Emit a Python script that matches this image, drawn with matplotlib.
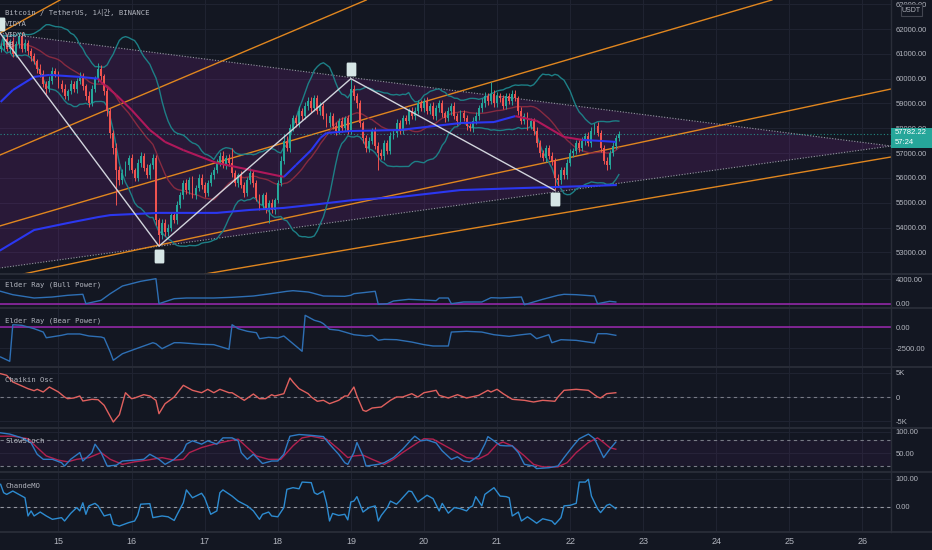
import numpy as np
import pandas as pd
import matplotlib
matplotlib.use('Agg')
import matplotlib.pyplot as plt
import matplotlib.transforms as mtransforms
from matplotlib.collections import LineCollection
from matplotlib.lines import Line2D
from matplotlib.patches import Rectangle
from matplotlib.path import Path

plt.rcParams['font.family'] = ['Liberation Sans', 'DejaVu Sans']
MONO = ['DejaVu Sans Mono', 'Noto Sans CJK KR']

# ---- data: BTCUSDT 1h, hour 0 = 14 Jun 05:00 ----
first_open = 61200
closes = [
    61300, 61600, 61200, 61500, 61000, 61400, 61700, 61200, 61450, 61100, 60900,
    60700, 60400, 60200, 59800, 59600, 59900, 60300,
    60200, 59800, 59600, 59300, 59500, 59800, 59600, 59900, 60100, 59700,
    59300, 59000, 59600, 60000, 60400, 60100,
    59500, 58700, 57800, 57200,
    56300, 55900, 56200,
    56500, 56800, 56300, 56000, 56600, 56900, 56400, 56100, 56500, 56800,
    54300, 53700,
    54200, 53800, 54000, 54500, 54300, 54900, 55300,
    55800, 55500, 55900, 55300, 55600, 56000, 55700, 55400, 55800, 56100,
    56300, 56600, 56900, 56500, 56800,
    56600, 56200, 55800, 56100, 55700, 55400, 55900, 56200, 55800,
    55200, 54900, 55300, 54800, 55000, 54700, 55100,
    55800, 56700, 57500, 57200,
    58000, 58400, 58200, 58700, 58500, 58900,
    59100, 58800, 59200, 58700, 58900, 58500,
    58200, 58500, 58100, 57900, 58300, 58000, 58400, 57900,
    59600, 59300, 59000, 58200,
    57600, 57200, 57500, 57900, 57300, 57000, 56900, 57400, 57100, 57700,
    57800, 58200, 57900, 58400, 58300, 58700, 58500,
    58700, 59000, 58800, 59100, 58700, 58900, 58500, 58800, 59000, 58600,
    58400, 58700, 58900, 58500, 58300, 58600,
    58400, 58100, 58000, 58300, 58500, 58800, 59000,
    59300, 59100, 59400, 59000, 59300, 59200, 58900, 59300, 59100, 59400,
    59200, 58700, 58300, 58500, 58100, 58300, 57900,
    57400, 57000, 56800, 57200, 56900, 56700,
    56000,
    55900, 56300, 56100, 56600, 57000,
    57100, 57400, 57200, 57500, 57700, 57400, 57900, 58100, 57800,
    57200, 56700, 56500,
    57000, 57300, 57600, 57782.22,
]
wick_up = [
    150, 120, 200, 90, 160, 130, 110, 180, 140, 100, 120, 150,
    90, 170, 130, 110, 200, 150, 120, 100, 140, 180, 90, 160,
    110, 130, 150, 120, 100, 190, 140, 120, 220, 130, 100, 150,
    120, 110, 200, 160, 140, 180, 120, 150, 100, 170, 130, 110,
    150, 120, 180, 140, 100, 160, 130, 150, 110, 120, 170, 140,
    130, 150, 120, 180, 110, 140, 160, 120, 100, 150, 130, 170,
    140, 200, 120, 150, 600, 130, 110, 160, 140, 120, 180, 100,
    130, 150, 110, 140, 120, 160, 100, 130, 200, 250, 180, 160,
    150, 130, 200, 120, 170, 150, 180, 130, 160, 140, 120, 110,
    150, 130, 160, 120, 140, 110, 150, 400, 150, 120, 140, 110,
    130, 160, 120, 150, 140, 170, 120, 130, 150, 140, 160, 120,
    130, 150, 110, 140, 160, 120, 150, 130, 170, 110, 140, 120,
    150, 130, 110, 160, 120, 140, 100, 130, 150, 120, 110, 140,
    160, 130, 200, 150, 120, 450, 140, 160, 130, 150, 120, 140,
    160, 130, 120, 150, 110, 140, 120, 130, 150, 120, 140, 110,
    130, 160, 120, 150, 140, 130, 160, 150, 120, 140, 130, 150,
    120, 160, 140, 130, 150, 120, 110, 140, 130, 150, 120, 90,
]
wick_dn = [
    120, 150, 100, 170, 130, 110, 160, 140, 120, 150, 180, 130,
    160, 140, 120, 200, 150, 110, 130, 170, 120, 140, 150, 110,
    130, 160, 120, 140, 180, 150, 110, 130, 120, 160, 140, 200,
    180, 250, 1400, 200, 150, 130, 170, 120, 140, 110, 160, 130,
    120, 150, 140, 200, 450, 180, 150, 130, 160, 120, 140, 110,
    150, 130, 160, 120, 140, 110, 130, 170, 120, 140, 150, 110,
    130, 120, 150, 140, 160, 130, 170, 120, 150, 140, 130, 160,
    140, 180, 150, 200, 600, 130, 150, 120, 110, 140, 130, 150,
    120, 140, 130, 160, 110, 150, 130, 120, 140, 160, 130, 150,
    140, 120, 160, 130, 150, 120, 140, 130, 160, 200, 150, 180,
    140, 160, 130, 150, 700, 140, 160, 120, 150, 130, 140, 120,
    150, 130, 140, 120, 160, 130, 110, 150, 130, 140, 120, 160,
    130, 150, 140, 120, 160, 130, 150, 140, 120, 160, 130, 140,
    120, 150, 130, 140, 160, 120, 140, 130, 150, 120, 140, 130,
    150, 120, 160, 140, 130, 150, 120, 160, 140, 150, 130, 160,
    150, 200, 500, 250, 150, 130, 140, 120, 150, 130, 140, 120,
    160, 130, 150, 140, 120, 160, 150, 200, 140, 130, 120, 100,
]

# VIDYA lines (hour, price)
vidya_fast_h = [0, 4, 11, 16, 26, 32, 33, 38, 43, 49, 54, 60, 71, 82, 93, 97, 102, 105,
                107, 115, 131, 151, 162, 169, 176, 185, 191, 197, 202]
vidya_fast = [59060, 59540, 60070, 60150, 60070, 60000, 59860, 59340, 58740, 57930, 57450,
              57120, 56600, 56320, 56040, 56520, 57120, 57610, 57810, 57890, 57930, 58210,
              58250, 58490, 58300, 57650, 57530, 57490, 57450]
vidya_slow_h = [0, 11, 22, 32, 36, 52, 71, 82, 93, 102, 116, 131, 151, 171, 182, 202]
vidya_slow = [53090, 53900, 54180, 54420, 54500, 54590, 54590, 54710, 54790, 54910, 55110,
              55230, 55510, 55590, 55630, 55710]

# drawings (day of June, price)
zigzag_d = [14.20, 16.375, 19.0, 21.79]
zigzag_p = [61840, 53250, 60000, 55500]
tri_d = [14.20, 26.39, 14.20]
tri_p = [61840, 57285, 52370]
fan_lines = [((14.2, 61840), (15.021, 63169)),
             ((14.2, 56922), (18.241, 61960)),
             ((16.252, 55834), (22.750, 61436)),
             ((16.252, 53215), (26.389, 59582)),
             ((17.004, 52127), (26.389, 56842))]

bull_h = [0, 4, 11, 17, 22, 27, 28, 33, 36, 40, 46, 51, 52, 57, 61, 70, 76, 83, 88, 94,
          96, 101, 102, 106, 113, 115, 116, 119, 123, 124, 127, 129, 134, 139, 143, 144,
          147, 148, 152, 158, 161, 164, 171, 172, 178, 183, 185, 189, 195, 196, 200, 202]
bull_v = [2030, 1490, 960, 1120, 1390, 1550, 50, 590, 1650, 2880, 3630, 4050, 50, 850, 960,
          960, 1070, 1280, 1600, 2030, 2130, 1920, 1810, 1280, 1230, 1390, 1650, 1810, 2030,
          -50, 50, 480, 750, 640, 530, 960, 960, 50, 320, 320, 1010, 960, 1120, -110, 750,
          1390, 1550, 1490, 1280, 50, 430, 320]

bear_h = [0, 3, 4, 7, 11, 14, 15, 20, 22, 26, 29, 33, 34, 36, 37, 40, 44, 47, 50, 51, 53,
          57, 59, 66, 70, 75, 76, 78, 81, 84, 85, 88, 91, 93, 99, 100, 103, 105, 106, 108,
          111, 113, 116, 120, 122, 124, 126, 130, 135, 139, 142, 147, 148, 153, 158, 162,
          167, 171, 174, 176, 180, 181, 184, 189, 195, 196, 199, 202]
bear_v = [-3570, -4080, 270, 200, -200, -600, -1280, -990, -830, -830, -1070, -1190, -1310,
          -2980, -3960, -3180, -2650, -2260, -1870, -1990, -2580, -1870, -1870, -2060, -2100,
          -2650, 270, -200, -510, -680, -1390, -1230, -1310, -1070, -2890, 1390, 800, 600,
          390, -270, -390, -600, -920, -1070, -990, -1580, -1470, -1510, -1790, -2100, -2260,
          -2260, -600, -510, -600, -920, -1110, -920, -800, -1390, -920, -1870, -1510, -1590,
          -1900, -800, -800, -990]

chaikin_h = [0, 2, 4, 7, 9, 11, 12, 14, 16, 19, 21, 22, 24, 26, 27, 30, 32, 34, 37, 39,
             41, 43, 44, 47, 49, 51, 52, 54, 56, 57, 60, 63, 66, 68, 70, 72, 75, 76, 80, 83,
             85, 87, 89, 90, 93, 95, 96, 98, 101,
             102, 104, 106, 108, 111, 113, 114, 116, 117, 119, 120, 122, 125, 128, 130, 132,
             135, 137, 139, 143, 144, 147, 150, 153, 157, 160, 161, 163, 165, 168, 172, 175,
             178, 182, 183, 185, 189, 193, 196, 197, 199, 202]
chaikin_v = [4850, 4510, 3120, 2290, 1730, 1310, 1600, 1040, 2080, 1040, 0, -350, -210, 210,
             -830, -480, -560, -1730, -5200, -3680, 890, -350, -210, 480, 210, -690, -3470,
             -1390, -480, 0, 2430, 1390, 890, 1600, 890, 1600, 890, 890, -690, 620, -350,
             -350, 480, 210, 690, 3950, 3120, 1730, 690,
             0, -890, -690, -1390, -690, 210, 210, 2080, 210, -2770, -2980, -2290, -2080,
             -690, 0, 0, 690, 0, 890, 1390, 350, -210, 480, -210, 350, 1390, 1040, 1600, 690,
             -480, -690, -1040, -690, -890, 0, 1390, 1600, 1390, 0, -210, 690, 890]

stoch_k_h = [0, 3, 7, 10, 12, 14, 17, 20, 21, 23, 26, 27, 30, 31, 33, 35, 38, 40, 44, 47,
             49, 52, 54, 57, 60, 61, 63, 66, 68, 71, 73, 76, 78, 79, 81, 83, 86, 89, 91, 93,
             95, 98,
             102, 106, 108, 111, 113, 114, 116, 117, 119, 120, 124, 126, 129, 132, 135, 136,
             138, 140, 143, 145, 148, 150, 152, 154, 157, 159, 160, 162, 164, 166, 168, 170,
             172, 175, 176, 180, 183, 185, 188, 190, 193, 195, 198, 200, 202]
stoch_k = [98, 95, 86, 74, 47, 35, 35, 27, 19, 35, 51, 31, 51, 71, 51, 19, 21, 31, 33, 35,
           47, 35, 23, 35, 55, 71, 79, 71, 79, 71, 86, 86, 79, 51, 35, 47, 25, 31, 31, 47,
           90, 94,
           92, 89, 71, 47, 27, 23, 51, 75, 43, 19, 23, 27, 39, 59, 83, 90, 79, 81, 74, 55,
           35, 41, 31, 29, 43, 71, 89, 79, 68, 67, 67, 51, 23, 19, 13, 15, 19, 39, 67, 84,
           95, 84, 39, 59, 76]
stoch_d_h = [0, 4, 9, 12, 15, 19, 22, 25, 29, 33, 36, 40, 44, 48, 53, 57, 60, 62, 66, 70,
             75, 78, 81, 84, 88, 92, 96, 99,
             102, 107, 111, 114, 116, 119, 122, 126, 129, 132, 137, 139, 142, 145, 150, 153,
             157, 160, 163, 165, 168, 172, 175, 178, 183, 186, 189, 193, 196, 198, 200, 202]
stoch_d = [90, 90, 84, 63, 43, 33, 29, 35, 39, 51, 35, 23, 29, 33, 39, 33, 35, 51, 63, 71,
           79, 83, 63, 43, 35, 35, 67, 86,
           90, 83, 59, 39, 43, 45, 35, 23, 35, 51, 75, 84, 83, 71, 51, 39, 36, 47, 71, 76,
           67, 43, 23, 17, 17, 27, 51, 75, 86, 75, 63, 59]

cmo_h = [0, 1, 2, 4, 7, 8, 9, 10, 11, 13, 15, 17, 20, 21, 23, 25, 26, 27, 28, 29, 31, 32,
         34, 36, 37, 39, 42, 44, 45, 46, 49, 50, 53, 55, 57, 58, 60, 61, 63, 66, 67, 69, 71,
         72, 73, 76, 78, 81, 83, 85, 86, 88, 89, 91, 93, 94, 96, 98, 99,
         102, 103, 104, 106, 107, 108, 109, 111, 113, 114, 115, 116, 117, 119, 121, 123,
         124, 125, 127, 128, 130, 131, 134, 135, 137, 140, 142, 144, 145, 147, 149, 151,
         153, 154, 155, 156, 158, 159, 162, 164, 166, 167, 168, 170, 171, 173, 175, 176,
         178, 181, 182, 184, 185, 187, 189, 190, 192, 193, 194, 196, 197, 199, 200, 202]
cmo_v = [81, 51, 45, 57, 39, 33, -32, -14, -32, -18, -32, -44, -38, -50, -23, -2, -14, 15,
         -26, 4, 13, 4, -32, -26, -62, -68, -56, -50, -30, 10, 12, -38, -32, -35, -48, -26,
         15, 61, 33, 49, 33, -26, -14, 51, 61, 39, 21, 4, -14, -44, -26, -18, -32, -35, -2,
         63, 69, 65, 89,
         87, 51, 45, 57, 15, -50, -23, -30, -26, -46, 18, 21, 37, -18, -2, 4, -50, -30, -2,
         21, 10, 21, 57, 55, 18, 42, 30, -14, 13, -22, -2, -6, -14, -2, 4, 37, 4, 45, 69,
         39, 37, 33, -32, -18, -50, -35, -50, -58, -42, -50, -62, -38, 4, 6, 13, 89, 89, 99,
         39, -6, -20, 6, 10, -6]

day_ticks = list(range(15, 27))

# ---- colours ----
BG = '#131722'
GRID = '#1f2331'
TXT = '#b2b5be'
SEP = '#2a2e39'
UP, DOWN = '#26a69a', '#ef5350'
ORANGE = '#e0861f'
PURPLE = '#9c27b0'
VBLUE, VRED = '#2b37f0', '#b0185a'
W, H, PW = 932, 550, 891
TICK_FS = 5.5


def to_day(h):
    return 14 + (5 + np.asarray(h, dtype=float)) / 24


fig = plt.figure(figsize=(W / 100, H / 100), dpi=100, facecolor=BG)


def panel(top, bot, yticks, ylabels, ylim):
    ax = fig.add_axes([0, 1 - bot / H, PW / W, (bot - top) / H])
    ax.set_facecolor(BG)
    for s in ax.spines.values():
        s.set_visible(False)
    ax.yaxis.tick_right()
    ax.tick_params(axis='both', length=0, colors=TXT, labelsize=TICK_FS, pad=3.5)
    ax.set_xlim(14.2, 26.39)
    ax.set_xticks(day_ticks)
    ax.set_xticklabels([str(d) for d in day_ticks])
    ax.tick_params(axis='x', labelbottom=False, pad=4.5, labelsize=6.5)
    ax.set_yticks(yticks)
    ax.set_yticklabels(ylabels)
    ax.set_ylim(*ylim)
    ax.grid(True, color=GRID, lw=0.8)
    ax.set_axisbelow(True)
    return ax


price_ticks = list(range(53000, 64000, 1000))
ax = panel(0, 274, price_ticks, [f'{v:.2f}' for v in price_ticks], (52127, 63169))

# triangle
ax.fill(tri_d, tri_p, color=PURPLE, alpha=0.16, lw=0, zorder=1)
ax.plot(tri_d, tri_p, color='#9598a1', lw=0.8, ls=(0, (1, 1.5)), zorder=2)

# fan lines
for p1, p2 in fan_lines:
    ax.axline(p1, p2, color=ORANGE, lw=1, zorder=2)

# candles
t = to_day(np.arange(len(closes)))
c = np.array(closes, dtype=float)
o = np.concatenate([[first_open], c[:-1]])
body_lo = np.minimum(o, c)
body_hi = np.maximum(o, c)
hi = body_hi + np.array(wick_up)
lo = body_lo - np.array(wick_dn)
cols = np.where(c >= o, UP, DOWN)
ax.vlines(t, lo, hi, colors=cols, lw=0.7, zorder=4)
ax.bar(t, np.maximum(body_hi - body_lo, 25), bottom=body_lo, width=0.62 / 24,
       color=cols, lw=0, zorder=5)

# Bollinger bands
s = pd.Series(c)
basis = s.rolling(20, min_periods=1).mean()
dev = s.rolling(20, min_periods=1).std(ddof=0)
ax.plot(t, basis + 2 * dev, color='#1d7f86', lw=1, zorder=3)
ax.plot(t, basis - 2 * dev, color='#1d7f86', lw=1, zorder=3)
ax.plot(t, basis, color='#862a40', lw=1, zorder=3)

# VIDYA
ax.plot(to_day(vidya_slow_h), vidya_slow, color=VBLUE, lw=1.5, zorder=6)
vx = to_day(vidya_fast_h)
vy = np.array(vidya_fast, dtype=float)
segs = [[(vx[i], vy[i]), (vx[i + 1], vy[i + 1])] for i in range(len(vx) - 1)]
slope = np.diff(vy) / np.diff(vidya_fast_h)
seg_cols = [VRED if sl < -15 else VBLUE for sl in slope]
ax.add_collection(LineCollection(segs, colors=seg_cols, lw=1.5, zorder=6))

# zigzag + pivot markers
ax.plot(zigzag_d, zigzag_p, color='#d1d4dc', lw=1, zorder=7)
box = Path([(-0.6, -1), (0.6, -1), (0.7, -0.85), (0.7, 0.85), (0.6, 1), (-0.6, 1),
            (-0.7, 0.85), (-0.7, -0.85), (-0.6, -1)])
for d, p, dy in zip(zigzag_d, zigzag_p, [9, -10, 10, -9]):
    tr = ax.transData + mtransforms.ScaledTranslation(0, dy / 100, fig.dpi_scale_trans)
    ax.plot([d], [p], marker=box, ms=10, color='#d6e6e6', mew=0, transform=tr,
            zorder=8, clip_on=False)

# last price line
ax.axhline(closes[-1], color=UP, lw=0.8, ls=(0, (1, 2)), alpha=0.8, zorder=3)

# ---- sub panels ----
bx = panel(275, 307, [0, 4000], ['0.00', '4000.00'], (-480, 4640))
bx.axhline(0, color=PURPLE, lw=1.1)
bx.plot(to_day(bull_h), bull_v, color='#2e6fb4', lw=1)

rx = panel(309, 366, [-2500, 0], ['-2500.00', '0.00'], (-4641, 2142))
rx.axhline(0, color=PURPLE, lw=1.1)
rx.plot(to_day(bear_h), bear_v, color='#2e6fb4', lw=1)

cx = panel(368, 427, [-5000, 0, 5000], ['-5K', '0', '5K'], (-6240, 6032))
cx.axhline(0, color='#787b86', lw=0.8, ls=(0, (3, 3)))
cx.plot(to_day(chaikin_h), chaikin_v, color='#e0605e', lw=1)

sx = panel(429, 471, [50, 100], ['50.00', '100.00'], (7.2, 107.1))
sx.axhspan(20, 80, color=PURPLE, alpha=0.07, lw=0)
sx.axhline(80, color='#787b86', lw=0.8, ls=(0, (3, 3)))
sx.axhline(20, color='#787b86', lw=0.8, ls=(0, (3, 3)))
sx.plot(to_day(stoch_d_h), stoch_d, color='#b3214f', lw=1)
sx.plot(to_day(stoch_k_h), stoch_k, color='#2e7bc4', lw=1)

mx = panel(473, 531, [0, 100], ['0.00', '100.00'], (-85.7, 121.4))
mx.axhline(0, color='#9598a1', lw=0.8, ls=(0, (3, 3)))
mx.plot(to_day(cmo_h), cmo_v, color='#2d8bd0', lw=1)
mx.tick_params(axis='x', labelbottom=True)

# ---- separators ----
for y in [274.5, 308, 367, 428, 472, 532]:
    fig.add_artist(Line2D([0, 1], [1 - y / H] * 2, color=SEP, lw=1.3))
fig.add_artist(Line2D([PW / W + 0.0005] * 2, [1 - 532 / H, 1], color=SEP, lw=1))

# ---- texts ----
fig.text(5 / W, 1 - 13 / H, 'Bitcoin / TetherUS, 1시간, BINANCE', family=MONO,
         fontsize=5.2, color=TXT, va='center')
for y, s_ in [(24, 'VIDYA'), (35, 'VIDYA'), (45, 'BB')]:
    fig.text(5 / W, 1 - y / H, s_, family=MONO, fontsize=5.2, color=TXT, va='center')
for y, s_ in [(285, 'Elder Ray (Bull Power)'), (321, 'Elder Ray (Bear Power)'),
              (380, 'Chaikin Osc'), (441, 'SlowStoch'), (486, 'ChandeMO')]:
    fig.text(5 / W, 1 - y / H, s_, family=MONO, fontsize=5.2, color=TXT, va='center')

# USDT box (sits over the top price label, as in the terminal)
fig.add_artist(Rectangle((901 / W, 1 - 16 / H), 21 / W, 12 / H, transform=fig.transFigure,
                         fc=BG, ec='#434651', lw=0.8, zorder=10))
fig.text(911.5 / W, 1 - 10 / H, 'USDT', fontsize=5, color=TXT, ha='center', va='center',
         zorder=11)

# last price label
fig.add_artist(Rectangle((PW / W, 1 - 148 / H), (W - PW) / W, 20 / H,
                         transform=fig.transFigure, fc=UP, ec='none', zorder=10))
fig.text(895 / W, 1 - 133 / H, f'{closes[-1]:.2f}', fontsize=TICK_FS, color='white',
         va='center', zorder=11)
fig.text(895 / W, 1 - 143 / H, '57:24', fontsize=TICK_FS, color='white', va='center',
         zorder=11)

fig.savefig('out.png', dpi=100, facecolor=BG)
